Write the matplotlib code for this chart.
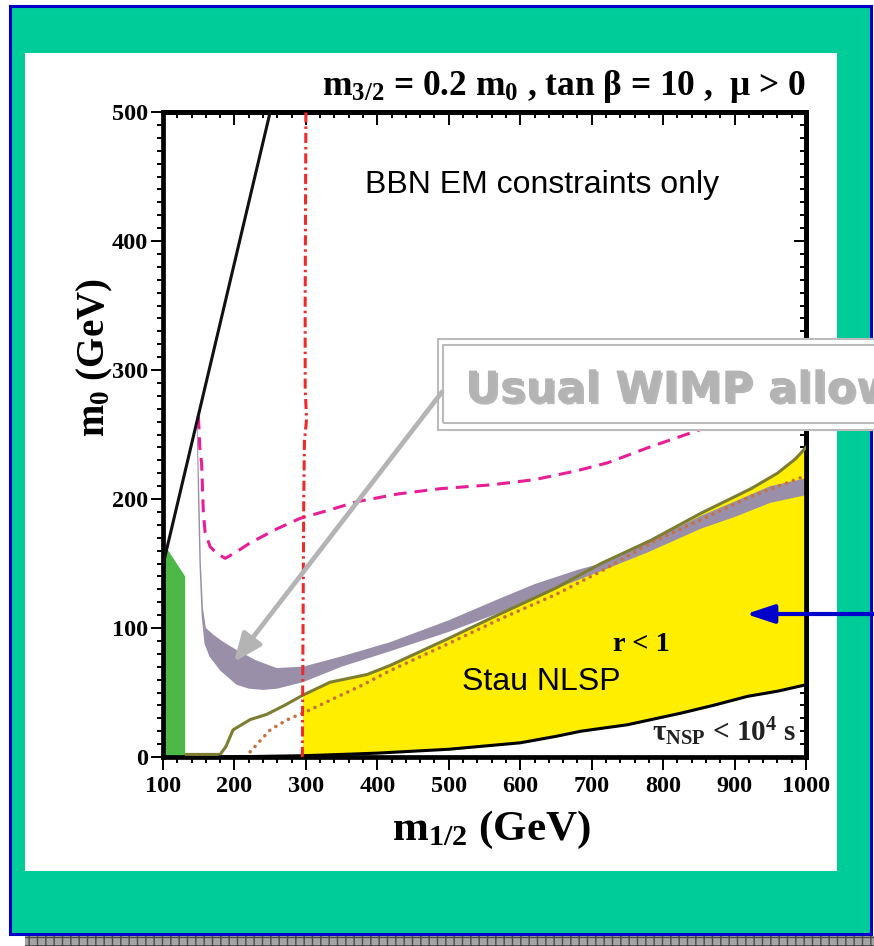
import matplotlib
matplotlib.use("Agg")
import matplotlib.pyplot as plt
import matplotlib.patheffects as pe
from matplotlib.patches import Rectangle, FancyArrowPatch
from matplotlib.ticker import MultipleLocator
import numpy as np

plt.rcParams['font.family'] = ['Liberation Serif', 'DejaVu Serif']
plt.rcParams['font.weight'] = 'bold'
plt.rcParams['mathtext.fontset'] = 'custom'
plt.rcParams['mathtext.rm'] = 'Liberation Serif:bold'
plt.rcParams['mathtext.it'] = 'Liberation Serif:bold'
plt.rcParams['mathtext.bf'] = 'Liberation Serif:bold'

# curves (x = m_1/2 in GeV, y = m_0 in GeV)
cmb_line_x = [100, 250]
cmb_line_y = [149, 500]

green_x = [100, 100, 105, 131, 131]
green_y = [0, 150, 162, 140, 0]

band_up_x = [148, 151, 153, 156, 160, 170, 185, 203, 230, 259, 296, 350, 418, 500, 572, 620, 680, 713, 780, 853, 900, 950, 1000]
band_up_y = [264, 200, 150, 115, 100, 95, 89, 83, 75, 69, 70, 78, 89, 106, 123, 134, 145, 150, 167, 187, 198, 210, 216]
band_lo_x = [147, 149, 151, 154, 158, 165, 180, 203, 220, 240, 260, 296, 350, 418, 500, 572, 620, 680, 713, 780, 853, 900, 950, 1000]
band_lo_y = [264, 200, 150, 110, 88, 78, 67, 56, 53, 52, 53, 58, 70, 82, 97, 112, 124, 137, 144, 159, 177, 186, 197, 203]

olive_x = [133, 180, 188, 198, 210, 222, 245, 270, 296, 334, 386, 418, 500, 572, 650, 713, 783, 853, 923, 960, 985, 1000]
olive_y = [2, 2, 8, 21, 25, 29, 33, 40, 48, 58, 64, 71, 92, 111, 131, 150, 168, 189, 208, 220, 231, 240]

dot_x = [222, 235, 250, 265, 278, 296, 334, 380, 418, 500, 572, 650, 713, 783, 853, 923, 1000]
dot_y = [4, 12, 21, 26, 30, 34, 44, 56, 67, 88, 107, 126, 144, 166, 184, 202, 218]

tau_x = [180, 296, 350, 400, 450, 500, 550, 600, 650, 685, 750, 825, 870, 918, 960, 1000]
tau_y = [0, 1, 2, 3, 4.5, 6, 8.5, 11, 16, 20, 25, 34, 40, 47, 51, 56]

red_x = [295, 296, 297, 298, 301, 299, 299, 300]
red_y = [0, 100, 200, 245, 262, 285, 350, 500]

mag_x = [149.6, 151.5, 154, 156.5, 159, 166, 175, 187, 200, 222, 260, 292, 330, 372, 430, 488, 560, 620, 680, 722, 780, 853, 920, 1000]
mag_y = [264, 240, 228, 189, 174, 163, 158, 154, 158, 166, 177, 185, 191, 198, 204, 208, 211, 215, 222, 228, 240, 254, 268, 283]

x_ticks = [100, 200, 300, 400, 500, 600, 700, 800, 900, 1000]
y_ticks = [0, 100, 200, 300, 400, 500]

W, H = 874, 946


def fx(px):
    return px / W


def fy(py):
    return 1 - py / H


fig = plt.figure(figsize=(W / 100, H / 100), dpi=100)

# slide background
fig.add_artist(Rectangle((fx(9.5), fy(933.5)), fx(871.5) - fx(9.5), fy(6.5) - fy(933.5),
                         transform=fig.transFigure, facecolor='#00cc99',
                         edgecolor='#0000c8', lw=2.2, zorder=-5))
fig.add_artist(Rectangle((fx(25), fy(871)), fx(837) - fx(25), fy(53) - fy(871),
                         transform=fig.transFigure, facecolor='white',
                         edgecolor='none', zorder=-4))
fig.add_artist(Rectangle((fx(25), 0), 1 - fx(25), 10 / H,
                         transform=fig.transFigure, facecolor='#a4a4a4',
                         edgecolor='#4a4a4a', hatch='++', lw=0, zorder=-4))

ax = fig.add_axes([fx(163), fy(757), fx(806) - fx(163), fy(112) - fy(757)])

# regions
yel_x = [x for x in olive_x if x >= 296] + [x for x in tau_x if x >= 296][::-1]
yel_y = [y for x, y in zip(olive_x, olive_y) if x >= 296] + \
        [y for x, y in zip(tau_x, tau_y) if x >= 296][::-1]
ax.fill(yel_x, yel_y, color='#ffee00', lw=0, zorder=1)
ax.fill(green_x, green_y, color='#4db848', lw=0, zorder=2)
ax.fill(band_up_x + band_lo_x[::-1], band_up_y + band_lo_y[::-1],
        color='#998fa8', lw=0, zorder=2)

# lines
ax.plot(olive_x, olive_y, color='#7d7d32', lw=2.2, zorder=3)
ax.plot(dot_x, dot_y, color='#c87040', lw=2.6, linestyle=(0, (0.01, 2.0)),
        dash_capstyle='round', zorder=4)
ax.plot(tau_x, tau_y, color='black', lw=2.2, zorder=4)
ax.plot(cmb_line_x, cmb_line_y, color='#111111', lw=2.2, zorder=4)
ax.plot(red_x, red_y, color='#ee2a2a', lw=2.2, linestyle=(0, (3.3, 1.3, 0.8, 1.3)), zorder=4)
ax.plot(mag_x, mag_y, color='#e81e96', lw=2.2, linestyle=(0, (4.2, 2.6)), zorder=3)

ax.set_xlim(100, 1000)
ax.set_ylim(0, 500)
ax.set_xticks(x_ticks)
ax.set_yticks(y_ticks)
ax.xaxis.set_minor_locator(MultipleLocator(20))
ax.yaxis.set_minor_locator(MultipleLocator(10))
ax.tick_params(which='both', direction='out', width=1.4, labelsize=17.5, colors='black')
ax.tick_params(axis='x', which='major', length=9, pad=5)
ax.tick_params(axis='y', which='major', length=9, pad=2)
ax.tick_params(which='minor', length=4)
for s in ax.spines.values():
    s.set_linewidth(3.4)

secx = ax.secondary_xaxis('top')
secx.set_xticks(x_ticks)
secx.xaxis.set_minor_locator(MultipleLocator(20))
secx.tick_params(which='both', direction='in', labeltop=False, width=1.4)
secx.tick_params(which='major', length=9)
secx.tick_params(which='minor', length=4)
secx.spines['top'].set_linewidth(3.4)
secy = ax.secondary_yaxis('right')
secy.set_yticks(y_ticks)
secy.yaxis.set_minor_locator(MultipleLocator(10))
secy.tick_params(which='both', direction='in', labelright=False, width=1.4)
secy.tick_params(which='major', length=9)
secy.tick_params(which='minor', length=4)
secy.spines['right'].set_linewidth(3.4)

# texts inside the plot
ax.text(631, 437, 'BBN EM constraints only', family='Liberation Sans', weight='normal',
        fontsize=23, ha='center', va='baseline', zorder=5)
ax.text(630, 52, 'Stau NLSP', family='Liberation Sans', weight='normal',
        fontsize=23, ha='center', va='baseline', zorder=5)
ax.text(769, 82, 'r < 1', fontsize=20.5, ha='center', va='baseline', zorder=5)
ax.text(986, 12.6, r'τ$_{\mathrm{NSP}}$ < 10$^{4}$ s', fontsize=21, ha='right',
        va='baseline', color='#222222', zorder=5)

# title and axis labels
fig.text(fx(806), fy(95), r'm$_{3/2}$ = 0.2 m$_{0}$ , tan β = 10 ,  μ > 0',
         fontsize=25.5, ha='right', va='baseline')
fig.text(fx(491), fy(830), r'm$_{1/2}$ (GeV)', fontsize=31, ha='center', va='center')
fig.text(fx(95), fy(358), r'm$_{0}$ (GeV)', fontsize=28, ha='center', va='center',
         rotation=90)

# "Usual WIMP allowed" call-out box
fig.add_artist(Rectangle((fx(437.7), fy(430)), fx(900) - fx(437.7), fy(339) - fy(430),
                         transform=fig.transFigure, facecolor='white',
                         edgecolor='#bbbbbb', lw=1.5, zorder=5))
fig.add_artist(Rectangle((fx(443), fy(423)), fx(900) - fx(443), fy(345) - fy(423),
                         transform=fig.transFigure, facecolor='none',
                         edgecolor='#bbbbbb', lw=1.5, zorder=5))
fig.text(fx(465), fy(402), 'Usual WIMP allowed', family='DejaVu Sans', weight='bold',
         fontsize=31, color='#b3b3b3', ha='left', va='baseline', zorder=7,
         path_effects=[pe.withSimplePatchShadow(offset=(1.5, -1.5),
                                                shadow_rgbFace='#8a8a8a', alpha=0.6)])

fig.add_artist(FancyArrowPatch((fx(442), fy(392)), (fx(234), fy(662)),
                               transform=fig.transFigure,
                               arrowstyle='-|>,head_length=1.0,head_width=0.42',
                               mutation_scale=17, color='#b4b4b4', lw=3.4,
                               shrinkA=0, shrinkB=0, zorder=6))
fig.add_artist(FancyArrowPatch((fx(900), fy(614)), (fx(746), fy(614)),
                               transform=fig.transFigure,
                               arrowstyle='-|>,head_length=1.0,head_width=0.33',
                               mutation_scale=17, color='#0000cc', lw=3.0,
                               shrinkA=0, shrinkB=0, zorder=6))

fig.savefig('out.png', dpi=100)
